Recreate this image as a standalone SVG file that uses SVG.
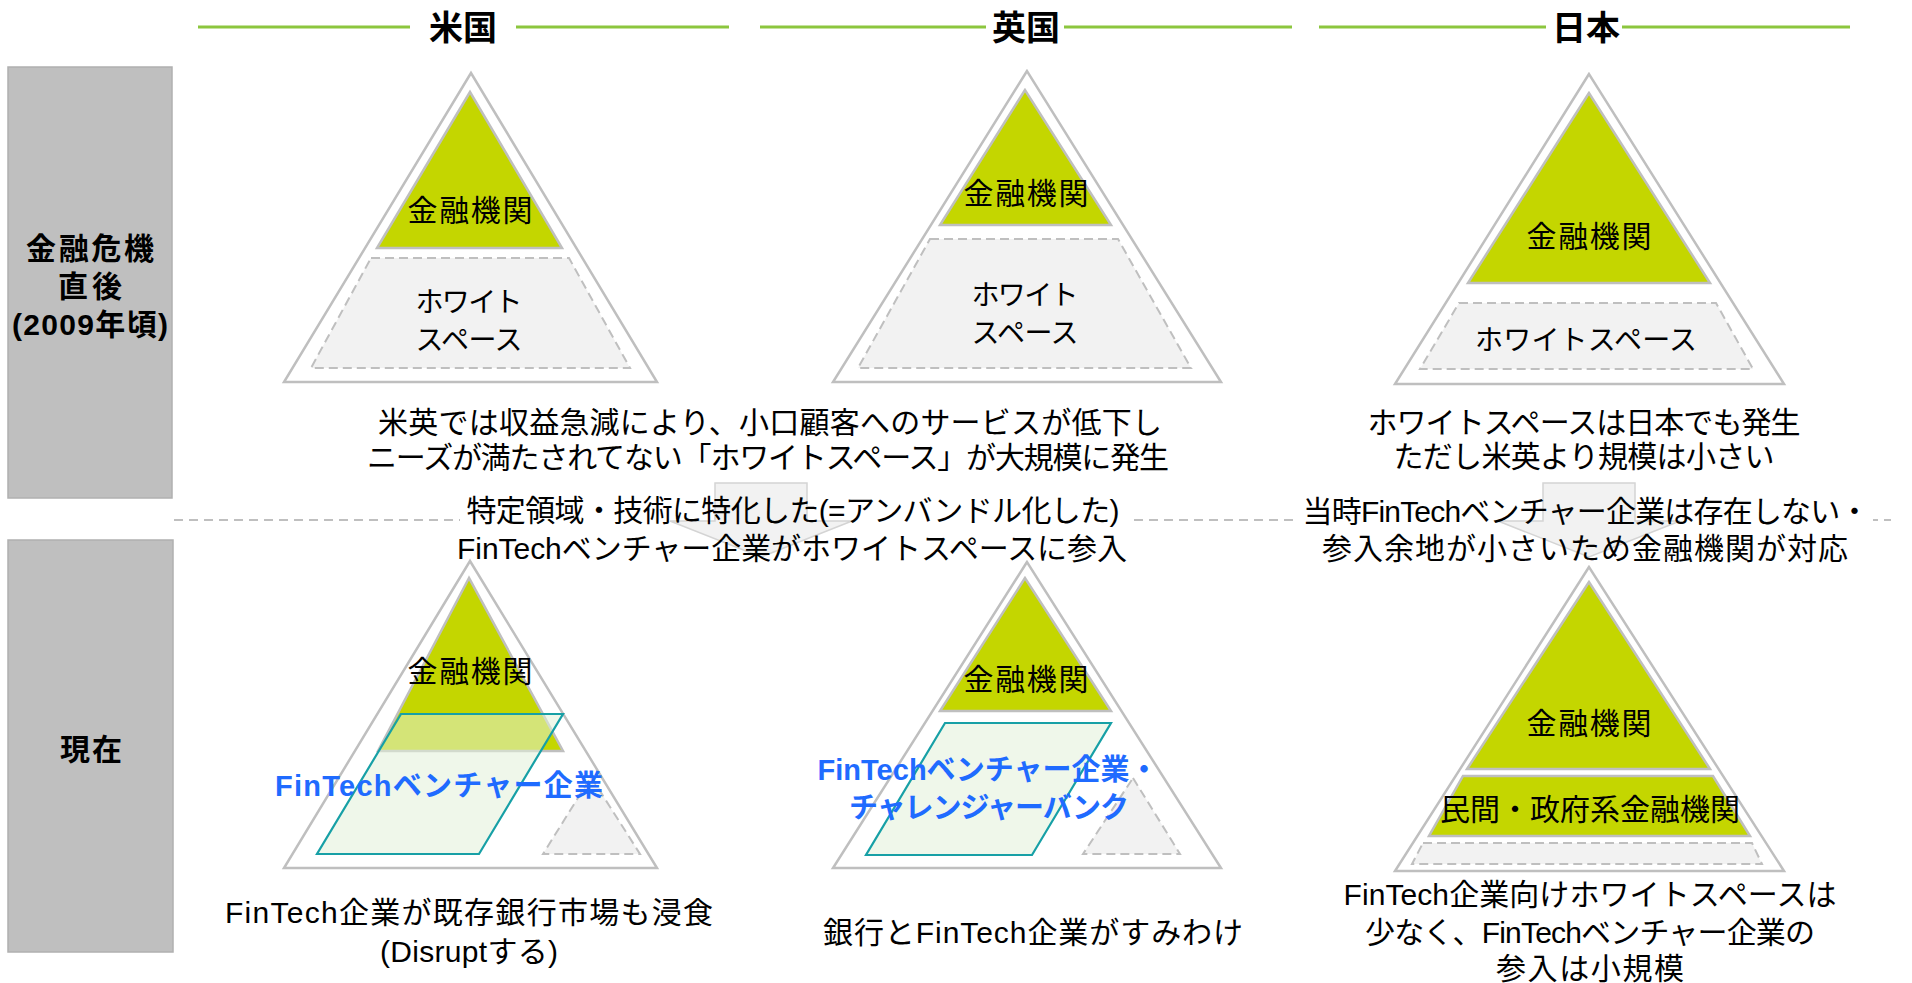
<svg xmlns="http://www.w3.org/2000/svg" width="1912" height="983" viewBox="0 0 1912 983">
<style>
text{font-family:'Liberation Sans','Noto Sans CJK JP',sans-serif;fill:#000;text-anchor:middle;dominant-baseline:central}
.h{font-size:34px;font-weight:bold}
.lb{font-size:30px;font-weight:bold}
.t{font-size:30px}
.k{font-size:28px}
.bl{font-size:29px;font-weight:bold;fill:#1f6bff}
.gl{stroke:#8cc63e;stroke-width:3}
.box{fill:#bfbfbf;stroke:#b0b0b0;stroke-width:1.5}
.out{fill:#fff;stroke:#bfbfbf;stroke-width:2.5;stroke-linejoin:miter}
.fin{fill:#c4d600;stroke:#bfbfbf;stroke-width:2.5}
.ws{fill:#f2f2f2;stroke:#bfbfbf;stroke-width:2;stroke-dasharray:9 5}
.para{fill:#e2f0d9;fill-opacity:.55;stroke:#17a0a6;stroke-width:2.2}
.arr{fill:#f2f2f2;stroke:#d4d4d4;stroke-width:1.5}
</style>

<g id="headers">
  <line class="gl" x1="198" y1="27" x2="410" y2="27"/>
  <line class="gl" x1="516" y1="27" x2="729" y2="27"/>
  <text class="h" x="463" y="28">米国</text>
  <line class="gl" x1="760" y1="27" x2="986" y2="27"/>
  <line class="gl" x1="1064" y1="27" x2="1292" y2="27"/>
  <text class="h" x="1026" y="28">英国</text>
  <line class="gl" x1="1319" y1="27" x2="1546" y2="27"/>
  <line class="gl" x1="1622" y1="27" x2="1850" y2="27"/>
  <text class="h" x="1586" y="28">日本</text>
</g>

<g id="label-before">
  <rect class="box" x="8" y="67" width="164" height="431"/>
  <text class="lb" x="90" y="248" textLength="128">金融危機</text>
  <text class="lb" x="90" y="286" textLength="64">直後</text>
  <text class="lb" x="90" y="324" textLength="156">(2009年頃)</text>
</g>
<g id="label-now">
  <rect class="box" x="8" y="540" width="165" height="412"/>
  <text class="lb" x="91" y="749" textLength="62">現在</text>
</g>

<g id="divider">
  <line x1="174" y1="520" x2="1891" y2="520" stroke="#bfbfbf" stroke-width="2" stroke-dasharray="9 6"/>
  <rect x="460" y="507" width="670" height="26" fill="#fff"/>
  <rect x="1298" y="507" width="575" height="26" fill="#fff"/>
</g>

<g id="connectors">
  <path class="arr" d="M715,483 H807 V521 H852 L761,557 L670,521 H715 Z"/>
  <path class="arr" d="M1543,483 H1635 V521 H1680 L1589,557 L1498,521 H1543 Z"/>
</g>

<g id="us-before">
  <polygon class="out" points="471,73 284,382 657,382"/>
  <polygon class="fin" points="470,92 377,248 562,248"/>
  <polygon class="ws" points="371,258 569,258 630,368 311,368"/>
  <text class="t" x="470" y="210" textLength="125">金融機関</text>
  <text class="k" x="469" y="302" textLength="107">ホワイト</text>
  <text class="k" x="469" y="340" textLength="107">スペース</text>
</g>

<g id="uk-before">
  <polygon class="out" points="1027,71 833,382 1221,382"/>
  <polygon class="fin" points="1025,90 940,225 1111,225"/>
  <polygon class="ws" points="930,239 1118,239 1191,368 858,368"/>
  <text class="t" x="1026" y="193" textLength="125">金融機関</text>
  <text class="k" x="1025" y="295" textLength="107">ホワイト</text>
  <text class="k" x="1025" y="333" textLength="107">スペース</text>
</g>

<g id="jp-before">
  <polygon class="out" points="1589,74 1395,384 1784,384"/>
  <polygon class="fin" points="1589,93 1468,283 1710,283"/>
  <polygon class="ws" points="1459,303 1716,303 1753,369 1420,369"/>
  <text class="t" x="1589" y="236" textLength="125">金融機関</text>
  <text class="k" x="1586" y="340" textLength="222">ホワイトスペース</text>
</g>

<g id="us-uk-note">
  <text class="t" x="770" y="422" textLength="784">米英では収益急減により、小口顧客へのサービスが低下し</text>
  <text class="t" x="768" y="457" textLength="802">ニーズが満たされてない「ホワイトスペース」が大規模に発生</text>
  <text class="t" x="793" y="510" textLength="653">特定領域・技術に特化した(=アンバンドル化した)</text>
  <text class="t" x="792" y="548" textLength="670">FinTechベンチャー企業がホワイトスペースに参入</text>
</g>

<g id="jp-note">
  <text class="t" x="1584" y="422" textLength="433">ホワイトスペースは日本でも発生</text>
  <text class="t" x="1584" y="456" textLength="381">ただし米英より規模は小さい</text>
  <text class="t" x="1586" y="511" textLength="567">当時FinTechベンチャー企業は存在しない・</text>
  <text class="t" x="1585" y="548" textLength="526">参入余地が小さいため金融機関が対応</text>
</g>

<g id="us-now">
  <polygon class="out" points="470,561 284,868 657,868"/>
  <polygon class="fin" points="469,578 378,751 563,751"/>
  <polygon class="ws" points="591,777 640,854 543,854"/>
  <polygon class="para" points="401,714 563,714 479,854 317,854"/>
  <text class="t" x="470" y="671" textLength="125">金融機関</text>
  <text class="bl" x="439" y="786" textLength="328">FinTechベンチャー企業</text>
  <text class="t" x="469" y="912" textLength="488">FinTech企業が既存銀行市場も浸食</text>
  <text class="t" x="469" y="951" textLength="178">(Disruptする)</text>
</g>

<g id="uk-now">
  <polygon class="out" points="1027,562 833,868 1221,868"/>
  <polygon class="fin" points="1025,578 940,711 1111,711"/>
  <polygon class="ws" points="1133,778 1180,854 1083,854"/>
  <polygon class="para" points="945,723 1111,723 1032,855 866,855"/>
  <text class="t" x="1026" y="679" textLength="125">金融機関</text>
  <text class="bl" x="988" y="770" textLength="341">FinTechベンチャー企業・</text>
  <text class="bl" x="989" y="808" textLength="280">チャレンジャーバンク</text>
  <text class="t" x="1033" y="932" textLength="420">銀行とFinTech企業がすみわけ</text>
</g>

<g id="jp-now">
  <polygon class="out" points="1589,567 1395,871 1784,871"/>
  <polygon class="fin" points="1589,582 1467,769 1710,769"/>
  <polygon class="fin" points="1463,776 1713,776 1750,836 1429,836"/>
  <polygon class="ws" points="1423,843 1752,843 1762,864 1412,864"/>
  <text class="t" x="1589" y="723" textLength="125">金融機関</text>
  <text class="t" x="1590" y="809" textLength="300">民間・政府系金融機関</text>
  <text class="t" x="1590" y="894" textLength="493">FinTech企業向けホワイトスペースは</text>
  <text class="t" x="1590" y="932" textLength="450">少なく、FinTechベンチャー企業の</text>
  <text class="t" x="1590" y="968" textLength="188">参入は小規模</text>
</g>
</svg>
